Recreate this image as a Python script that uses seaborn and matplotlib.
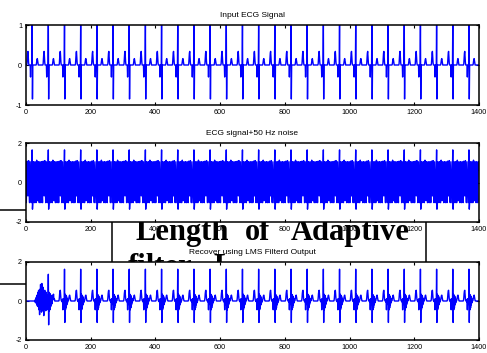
import numpy as np
import pandas as pd
import matplotlib
matplotlib.use("Agg")
import matplotlib.pyplot as plt
from matplotlib.patches import Rectangle
from matplotlib.lines import Line2D
import seaborn as sns

# One heartbeat of the clean ECG: 50 samples, R wave at sample 19
ecg_beat = [0, 0, 0, 0.03, 0.15, 0.30, 0.34, 0.20, 0.06, 0,
            0, 0, 0, 0, -0.30, -0.02, 0, 0, 0, 1.00,
            -0.85, 0, 0, 0, 0, 0, 0, 0, 0, 0,
            0, 0, 0.02, 0.08, 0.14, 0.16, 0.10, 0.03, 0, 0,
            0, 0, 0, 0, 0, 0, 0, 0, 0, 0]
n_beats = 28

# One cycle of the 50 Hz mains hum (5 samples)
hum_cycle = [-0.50, -1.02, -0.10, 1.05, 0.65]

# LMS filter output: start-up transient (first 100 samples) ...
lms_onset = [0, 0, 0, 0, 0, 0, 0, 0, 0, 0,
             0, 0, 0, 0, 0, 0, 0, 0, 0, 0,
             0, 0, 0, 0, 0, 0, 0, 0, 0.05, -0.08,
             0.12, -0.10, 0.20, -0.15, 0.30, -0.25, 0.15, 0.45, -0.30, 0.55,
             -0.45, 0.35, -0.70, 0.60, -0.20, 0.85, -0.40, 0.50, -0.57, 0.90,
             -0.30, 0.60, -0.50, 0.70, -0.20, -0.75, 0.50, -0.35, 0.55, -0.40,
             0.30, -0.50, 0.45, -0.30, 0.20, -0.45, 0.30, -0.20, 0.10, 1.37,
             -1.22, 0.45, -0.50, 0.40, -0.45, 0.35, -0.30, 0.30, -0.20, 0.20,
             -0.15, 0.25, 0.10, 0.30, 0.20, 0.35, 0.15, 0.05, 0.10, 0.00,
             0, 0, 0, 0, 0, 0, 0, 0, 0, 0]
# ... then the steady recovered beat
lms_beat = [0, 0, 0.02, 0.15, 0.38, 0.52, 0.55, 0.35, 0.12, 0.02,
            0, 0, -0.05, 0.08, -0.45, 0.12, -0.18, 0.10, -0.12, 1.63,
            -1.10, 0.35, -0.45, 0.30, -0.35, 0.25, -0.20, 0.15, -0.10, 0.05,
            0, 0.02, 0.10, 0.20, 0.28, 0.30, 0.20, 0.08, 0.02, 0,
            0, 0, 0, 0, 0, 0, 0, 0, 0, 0]

titles = ["Input ECG Signal", "ECG signal+50 Hz noise",
          "Recover using LMS Filterd Output"]
x_ticks = [0, 200, 400, 600, 800, 1000, 1200, 1400]
y_limits = [(-1, 1), (-2, 2), (-2, 2)]
y_ticks = [[-1, 0, 1], [-2, 0, 2], [-2, 0, 2]]

clean = np.tile(ecg_beat, n_beats)
noisy = clean + np.tile(hum_cycle, len(clean) // len(hum_cycle))
recovered = np.concatenate([lms_onset, np.tile(lms_beat, n_beats - 2)])
df = pd.DataFrame({"sample": np.arange(len(clean)), "clean": clean,
                   "noisy": noisy, "recovered": recovered})

sns.set_style("white")
plt.rcParams["font.family"] = ["Liberation Sans", "DejaVu Sans"]
plt.rcParams["axes.unicode_minus"] = False
plt.rcParams["text.color"] = "black"

W, H = 487, 353
fig = plt.figure(figsize=(W / 100, H / 100), dpi=100)


def fx(px):
    return px / W


def fy(py):
    return 1 - py / H


# axes boxes in pixels: (left, top, right, bottom)
boxes = [(26, 25, 479, 105), (26, 143, 479, 222), (26, 262, 479, 340)]
columns = ["clean", "noisy", "recovered"]

for (l, t, r, b), col, title, ylim, yt in zip(boxes, columns, titles, y_limits, y_ticks):
    ax = fig.add_axes([fx(l), fy(b), (r - l) / W, (b - t) / H])
    ax.set_facecolor("white")
    sns.lineplot(data=df, x="sample", y=col, ax=ax, color="#0000ff",
                 linewidth=1.0, estimator=None)
    ax.set_xlim(0, 1400)
    ax.set_ylim(*ylim)
    ax.set_xticks(x_ticks)
    ax.set_yticks(yt)
    ax.set_xlabel("")
    ax.set_ylabel("")
    ax.set_title(title, fontsize=6, pad=5.5, color="black")
    ax.tick_params(direction="in", top=True, bottom=True, left=True, right=True,
                   length=2.5, width=0.8, labelsize=5.2, pad=2.8, colors="black")
    for s in ax.spines.values():
        s.set_visible(True)
        s.set_color("black")
        s.set_linewidth(1.1)

# Caption box and leader lines, sitting behind the plots
fig.add_artist(Rectangle((fx(112), fy(290)), fx(426) - fx(112), fy(200) - fy(290),
                         transform=fig.transFigure, facecolor="white",
                         edgecolor="black", linewidth=1.1, zorder=-2))
for py in (209.7, 284):
    fig.add_artist(Line2D([0, fx(60)], [fy(py), fy(py)], transform=fig.transFigure,
                          color="black", linewidth=1.1, zorder=-2))

serif = dict(family="Liberation Serif", weight="bold", size=22, color="black",
             zorder=-1, va="baseline", ha="left")
for word, px, py in [("Length", 135, 240), ("of", 245, 240), ("Adaptive", 291, 240),
                     ("filter", 128, 275), ("L", 213, 275)]:
    fig.text(fx(px), fy(py), word, **serif)

fig.savefig("out.png", dpi=100)
